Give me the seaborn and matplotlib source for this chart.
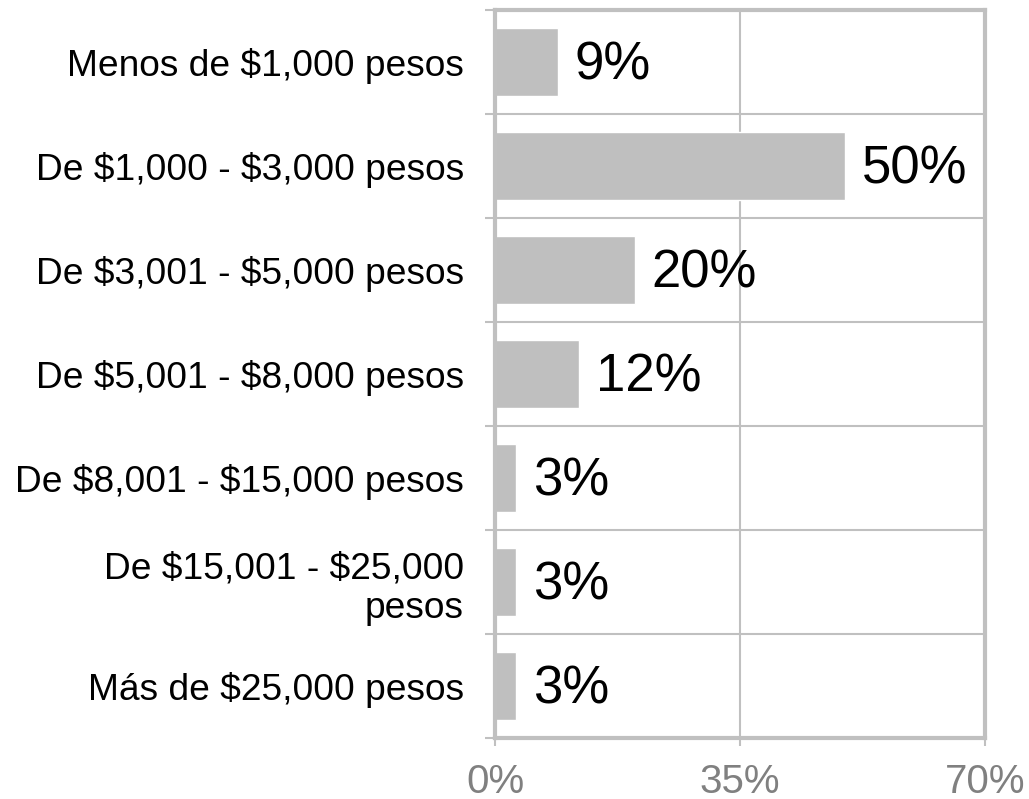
import matplotlib
matplotlib.use("Agg")
import matplotlib.pyplot as plt
import seaborn as sns
import pandas as pd
import numpy as np

categories = [
    "Menos de $1,000 pesos",
    "De $1,000 - $3,000 pesos",
    "De $3,001 - $5,000 pesos",
    "De $5,001 - $8,000 pesos",
    "De $8,001 - $15,000 pesos",
    "De $15,001 - $25,000\npesos",
    "Más de $25,000 pesos",
]
values = [9, 50, 20, 12, 3, 3, 3]
x_ticks = [0, 35, 70]
x_tick_labels = ["0%", "35%", "70%"]

sns.set_theme(style="white")
plt.rcParams["font.family"] = ["Liberation Sans", "DejaVu Sans"]
plt.rcParams["text.parse_math"] = False

df = pd.DataFrame({"cat": categories, "val": values})

fig = plt.figure(figsize=(10.29, 7.99), dpi=100)
ax = fig.add_axes([495 / 1029, 1 - 738 / 799, 490 / 1029, 728 / 799])

grey = "#c0c0c0"
sns.barplot(data=df, y="cat", x="val", orient="h", color="#bfbfbf",
            width=0.65, saturation=1, ax=ax, zorder=2)

ax.set_xlim(0, 70)
ax.set_ylim(len(categories) - 0.5, -0.5)
ax.set_xlabel("")
ax.set_ylabel("")

ax.set_xticks(x_ticks)
ax.set_xticklabels(x_tick_labels, fontsize=29, color="#808080")
ax.tick_params(axis="x", bottom=True, length=6, width=1.5, color=grey, pad=12)

ax.set_yticks(range(len(categories)))
ax.set_yticklabels(categories, fontsize=26.7, color="black", ha="right",
                   linespacing=1.2)
ax.tick_params(axis="y", which="major", left=False, pad=16.5)
ax.set_yticks(np.arange(-0.5, len(categories), 1), minor=True)
ax.tick_params(axis="y", which="minor", left=True, length=7, width=1.5, color=grey)

ax.grid(False)
ax.xaxis.grid(True, color=grey, linewidth=1.5, zorder=0)
ax.yaxis.grid(True, which="minor", color=grey, linewidth=1.5, zorder=0)
ax.set_axisbelow(True)

for s in ax.spines.values():
    s.set_visible(True)
    s.set_color(grey)
    s.set_linewidth(3)

for i, v in enumerate(values):
    ax.text(v + 2.4, i + 0.03, f"{v}%", fontsize=38, va="center", ha="left",
            color="black", zorder=3)

fig.savefig("out.png", dpi=100)
